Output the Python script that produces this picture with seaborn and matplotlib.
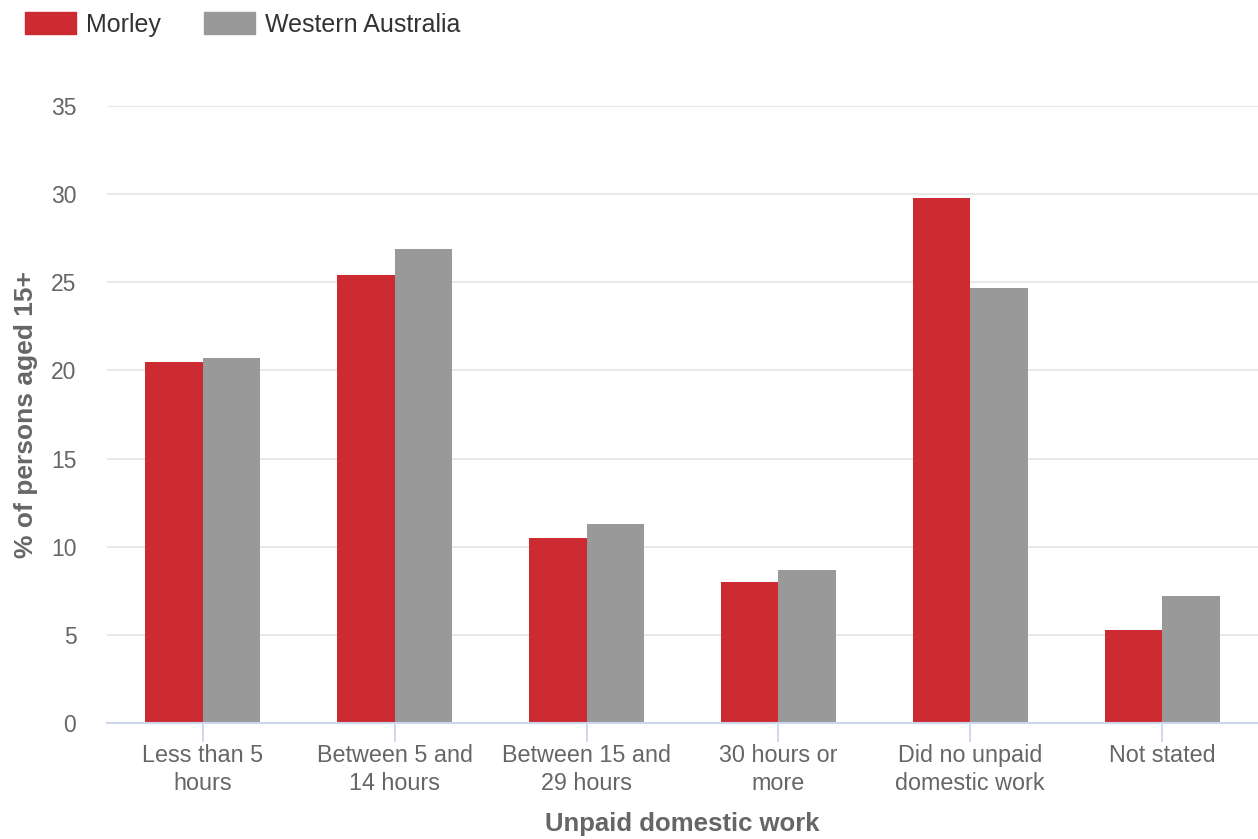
import matplotlib.pyplot as plt
import seaborn as sns
import pandas as pd

categories = ['Less than 5\nhours', 'Between 5 and\n14 hours', 'Between 15 and\n29 hours',
              '30 hours or\nmore', 'Did no unpaid\ndomestic work', 'Not stated']
morley = [20.5, 25.4, 10.5, 8.0, 29.8, 5.3]
western_australia = [20.7, 26.9, 11.3, 8.7, 24.7, 7.2]
series = ['Morley', 'Western Australia']
yticks = [0, 5, 10, 15, 20, 25, 30, 35]

df = pd.DataFrame({
    'category': categories * 2,
    'value': morley + western_australia,
    'area': [series[0]] * len(categories) + [series[1]] * len(categories),
})

sns.set_style('white')
plt.rcParams['font.family'] = ['Liberation Sans', 'DejaVu Sans']

fig = plt.figure(figsize=(12.58, 8.39), dpi=100)
ax = fig.add_axes([0.085, 0.1383, 0.915, 0.7354])

sns.barplot(data=df, x='category', y='value', hue='area',
            palette=['#cc2b31', '#999999'], width=0.6, saturation=1,
            linewidth=0, ax=ax, legend=False)

ax.set_ylim(0, 35)
ax.set_xlim(-0.5, len(categories) - 0.5)
ax.set_yticks(yticks)
ax.yaxis.grid(True, color='#e6e6e6', linewidth=1.3)
ax.set_axisbelow(True)
for s in ['top', 'right', 'left']:
    ax.spines[s].set_visible(False)
ax.spines['bottom'].set_color('#ccd6eb')
ax.spines['bottom'].set_linewidth(1.5)

ax.tick_params(axis='x', bottom=True, length=14, width=1.3, color='#ccd6eb',
               labelsize=16.8, labelcolor='#666666', pad=1.5)
for lbl in ax.get_xticklabels():
    lbl.set_linespacing(1.25)
ax.tick_params(axis='y', left=False, length=0, labelsize=16.5,
               labelcolor='#666666', pad=22)

ax.set_xlabel('Unpaid domestic work', fontsize=18.5, fontweight='bold',
              color='#666666', labelpad=12)
ax.set_ylabel('% of persons aged 15+', fontsize=19, fontweight='bold',
              color='#666666', labelpad=9)

handles = [plt.Rectangle((0, 0), 1, 1, color=c) for c in ['#cc2b31', '#999999']]
fig.legend(handles, series, loc='upper left', bbox_to_anchor=(0.002, 1.012),
           ncol=2, frameon=False, fontsize=18, labelcolor='#333333',
           handlelength=2.05, handleheight=0.95, handletextpad=0.4,
           columnspacing=1.7)

plt.savefig('out.png', dpi=100)
plt.close()
